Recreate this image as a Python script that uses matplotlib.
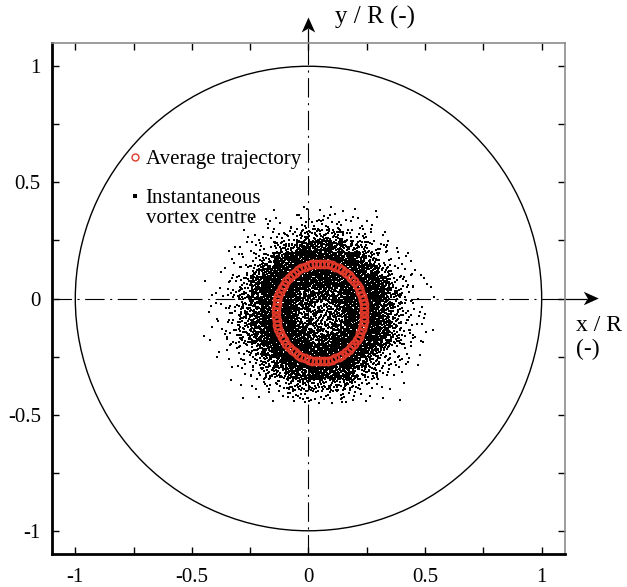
"""Vortex-centre scatter with the average trajectory inside the unit pipe section."""
import matplotlib

matplotlib.use("Agg")
import matplotlib.pyplot as plt
import numpy as np
from matplotlib.lines import Line2D
from matplotlib.patches import Polygon
from matplotlib.transforms import ScaledTranslation

# Average trajectory of the vortex centre (x/R, y/R)
traj_x = [
    0.240, 0.239, 0.237, 0.234, 0.229, 0.222, 0.215, 0.206, 0.196, 0.184, 0.172, 0.159,
    0.145, 0.130, 0.115, 0.099, 0.083, 0.067, 0.050, 0.033, 0.017, 0.001, -0.015, -0.030,
    -0.045, -0.059, -0.072, -0.084, -0.096, -0.106, -0.115, -0.122, -0.129, -0.134, -0.137, -0.139,
    -0.140, -0.139, -0.137, -0.134, -0.129, -0.122, -0.115, -0.106, -0.096, -0.084, -0.072, -0.059,
    -0.045, -0.030, -0.015, 0.001, 0.017, 0.033, 0.050, 0.067, 0.083, 0.099, 0.115, 0.130,
    0.145, 0.159, 0.172, 0.184, 0.196, 0.206, 0.215, 0.222, 0.229, 0.234, 0.237, 0.239,
]
traj_y = [
    -0.060, -0.042, -0.024, -0.006, 0.012, 0.029, 0.045, 0.060, 0.075, 0.088, 0.101, 0.112,
    0.122, 0.130, 0.137, 0.143, 0.147, 0.149, 0.150, 0.149, 0.147, 0.143, 0.137, 0.130,
    0.122, 0.112, 0.101, 0.088, 0.075, 0.060, 0.045, 0.029, 0.012, -0.006, -0.024, -0.042,
    -0.060, -0.078, -0.096, -0.114, -0.132, -0.149, -0.165, -0.180, -0.195, -0.208, -0.221, -0.232,
    -0.242, -0.250, -0.257, -0.263, -0.267, -0.269, -0.270, -0.269, -0.267, -0.263, -0.257, -0.250,
    -0.242, -0.232, -0.221, -0.208, -0.195, -0.180, -0.165, -0.149, -0.132, -0.114, -0.096, -0.078,
]

# Instantaneous vortex centres: number of samples per 0.05 x 0.05 bin.
# Columns span x/R = -0.45 .. 0.55, rows run from y/R = 0.40 down to -0.45.
bin_x_left = -0.45
bin_y_top = 0.40
bin_size = 0.05
bin_counts = [
    [0, 0, 0, 0, 0, 0, 1, 1, 2, 2, 2, 2, 1, 1, 1, 0, 0, 0, 0, 0],
    [0, 0, 0, 0, 1, 2, 2, 2, 6, 6, 6, 6, 2, 2, 2, 1, 0, 0, 0, 0],
    [0, 0, 0, 1, 2, 2, 6, 6, 18, 18, 18, 18, 6, 6, 2, 2, 1, 0, 0, 0],
    [0, 0, 1, 2, 6, 6, 18, 18, 40, 40, 40, 40, 18, 18, 6, 6, 2, 1, 0, 0],
    [0, 1, 2, 2, 6, 18, 40, 58, 58, 58, 58, 58, 58, 40, 18, 6, 2, 2, 1, 0],
    [0, 1, 2, 6, 18, 40, 58, 58, 58, 58, 58, 58, 58, 58, 40, 18, 6, 2, 1, 0],
    [1, 2, 6, 10, 40, 58, 58, 58, 58, 58, 58, 58, 58, 58, 58, 40, 10, 6, 2, 1],
    [1, 2, 6, 18, 40, 58, 58, 58, 40, 40, 40, 40, 58, 58, 58, 40, 18, 6, 2, 1],
    [1, 2, 6, 18, 40, 58, 58, 58, 40, 26, 26, 40, 58, 58, 58, 40, 18, 6, 2, 1],
    [1, 2, 6, 18, 40, 58, 58, 58, 26, 26, 26, 26, 58, 58, 58, 40, 18, 6, 2, 1],
    [1, 2, 6, 18, 40, 58, 58, 58, 40, 26, 26, 40, 58, 58, 58, 40, 18, 6, 2, 1],
    [1, 2, 6, 18, 40, 58, 58, 58, 58, 40, 40, 58, 58, 58, 58, 40, 18, 6, 2, 1],
    [0, 1, 2, 6, 18, 40, 58, 58, 58, 58, 58, 58, 58, 58, 40, 18, 6, 2, 1, 0],
    [0, 1, 2, 6, 10, 18, 40, 58, 58, 58, 58, 58, 58, 40, 18, 10, 6, 2, 1, 0],
    [0, 0, 1, 2, 6, 18, 18, 40, 40, 58, 58, 40, 40, 18, 18, 6, 2, 1, 0, 0],
    [0, 0, 1, 1, 2, 6, 6, 18, 18, 18, 18, 18, 18, 6, 6, 2, 1, 1, 0, 0],
    [0, 0, 0, 1, 1, 2, 2, 6, 6, 6, 6, 6, 6, 2, 2, 1, 1, 0, 0, 0],
]

pipe_radius = 1.0
tick_values = [-1, -0.75, -0.5, -0.25, 0, 0.25, 0.5, 0.75, 1]
tick_labels = ["-1", "", "-0.5", "", "0", "", "0.5", "", "1"]

RED = "#e0392a"


def halton(n, base):
    idx = np.arange(1, n + 1)
    out = np.zeros(n)
    f = 1.0 / base
    while idx.any():
        out += f * (idx % base)
        idx //= base
        f /= base
    return out


def spread_bins(counts):
    """Place each bin's samples with a low-discrepancy sequence (no RNG)."""
    counts = np.asarray(counts, dtype=float)
    n_rows, n_cols = counts.shape
    peak = counts.max()
    n = int(peak * n_rows * n_cols)
    x0 = bin_x_left
    x1 = x0 + n_cols * bin_size
    y1 = bin_y_top
    y0 = y1 - n_rows * bin_size
    px = x0 + (x1 - x0) * halton(n, 2)
    py = y0 + (y1 - y0) * halton(n, 3)
    keep_u = halton(n, 5)
    col = np.clip(((px - x0) / bin_size).astype(int), 0, n_cols - 1)
    row = np.clip(((y1 - py) / bin_size).astype(int), 0, n_rows - 1)
    keep = keep_u < counts[row, col] / peak
    return px[keep], py[keep]


def arrow_head(ax, tip, angle, length=0.15, width=0.135, notch=0.04):
    """Notched filled arrow head, sized in inches, tip at a data point."""
    verts = np.array([[0, 0], [-length, width / 2], [-length + notch, 0],
                      [-length, -width / 2]])
    c, s = np.cos(np.radians(angle)), np.sin(np.radians(angle))
    verts = verts @ np.array([[c, s], [-s, c]])
    trans = ax.figure.dpi_scale_trans + ScaledTranslation(*tip, ax.transData)
    ax.add_patch(Polygon(verts, closed=True, transform=trans, color="black",
                         lw=0, clip_on=False))


plt.rcParams.update({
    "font.family": ["Liberation Serif", "DejaVu Serif"],
    "font.size": 15,
    "lines.scale_dashes": False,
})

fig = plt.figure(figsize=(6.27, 5.87), dpi=100)
ax = fig.add_axes([0.0829, 0.0562, 0.8182, 0.8705])
ax.set_xlim(-1.1, 1.1)
ax.set_ylim(-1.1, 1.1)

dash = [14, 4, 1.5, 4]
ax.axhline(0, color="black", lw=0.8, dashes=dash, zorder=1)
ax.axvline(0, color="black", lw=0.8, dashes=dash, zorder=1)
ax.add_patch(plt.Circle((0, 0), pipe_radius, fill=False, color="black", lw=1.0))

cx, cy = spread_bins(bin_counts)
dots, = ax.plot(cx, cy, ls="none", marker="s", ms=1.5, mew=0, color="black",
                zorder=2)
ring, = ax.plot(traj_x, traj_y, ls="none", marker="o", ms=5.6, mfc="none",
                mec=RED, mew=1.5, zorder=3)

leg_kw = dict(loc="upper left", frameon=False, fontsize=15, handlelength=0.6,
              handletextpad=0.2, borderpad=0, borderaxespad=0, labelspacing=0)
leg_a = ax.legend([Line2D([], [], ls="none", marker="o", ms=5.0, mfc="none",
                          mec=RED, mew=1.0)],
                  ["Average trajectory"], bbox_to_anchor=(0.150, 0.791),
                  **leg_kw)
ax.add_artist(leg_a)
ax.legend([Line2D([], [], ls="none", marker="s", ms=2.4, mew=0, color="black"),
           Line2D([], [], ls="none")],
          ["Instantaneous", "vortex centre"], bbox_to_anchor=(0.150, 0.715),
          **leg_kw)

ax.set_xticks(tick_values)
ax.set_xticklabels(tick_labels)
ax.set_yticks(tick_values)
ax.set_yticklabels(tick_labels)
ax.tick_params(direction="in", length=5, width=1.0, top=True, right=True)
ax.tick_params(axis="x", pad=10)
ax.tick_params(axis="y", pad=8)

for side in ("left", "bottom"):
    ax.spines[side].set_linewidth(2.0)
for side in ("top", "right"):
    ax.spines[side].set_linewidth(1.2)
    ax.spines[side].set_color("#8c8c8c")

# axis arrows sticking out of the frame
ax.plot([0, 0], [1.1, 1.16], color="black", lw=0.9, clip_on=False)
arrow_head(ax, (0, 1.21), 90)
ax.plot([1.1, 1.19], [0, 0], color="black", lw=0.9, clip_on=False)
arrow_head(ax, (1.245, 0), 0)

ax.text(0.115, 1.21, "y / R (-)", fontsize=18, ha="left", va="center",
        clip_on=False)
ax.text(1.148, -0.07, "x / R\n(-)", fontsize=17, ha="left", va="top",
        linespacing=1.2, clip_on=False)

fig.savefig("out.png", dpi=100)
